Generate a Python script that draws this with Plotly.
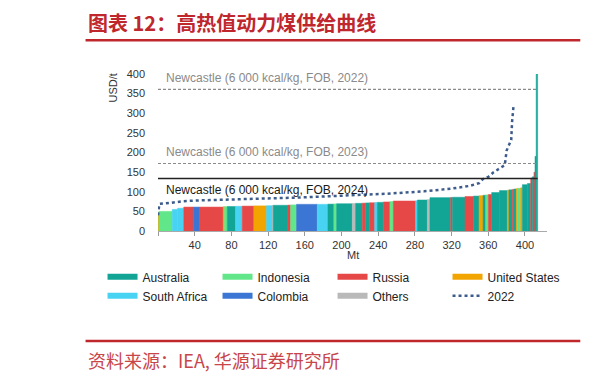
import plotly.graph_objects as go
import numpy as np

# ---------------- data ----------------
legend_countries = ["Australia", "Indonesia", "Russia", "United States",
                    "South Africa", "Colombia", "Others"]
country_colors = {
    "Australia": "#12a596",
    "Indonesia": "#62e68a",
    "Russia": "#e64848",
    "United States": "#f2a500",
    "South Africa": "#48d3f3",
    "Colombia": "#3c76d4",
    "Others": "#b9b9b9",
}

# 2024 supply curve: capacity (Mt) of each step, cost (USD/t), origin
widths = [1.0, 14.5, 5.8, 6.8, 10.3, 7.2, 25.5, 1.4, 3.0, 9.0, 7.3, 12.7, 13.8, 6.2,
          1.1, 16.0, 2.9, 6.5, 22.6, 11.6, 6.5, 3.0, 17.1, 3.6, 7.3, 3.6, 4.4, 5.5,
          2.9, 6.5, 7.2, 3.7, 24.3, 1.9, 10.9, 2.8, 22.6, 1.9, 13.7, 9.2, 6.1, 4.4,
          2.9, 2.9, 3.6, 8.5, 8.6, 1.7, 3.7, 1.7, 2.6, 1.4, 3.3, 1.9, 5.5, 3.6, 1.9,
          1.7, 1.1, 1.3, 1.6]
costs = [40, 50, 55, 58, 61, 61, 61, 62, 62, 62.5, 63, 63.5, 64, 64.5, 65, 65.5,
         66, 66.5, 68, 68, 68.5, 69, 69.5, 70, 70.5, 71, 71.5, 72, 72.5, 73, 74, 75,
         76.5, 77, 79, 80, 85, 85.5, 86, 88, 89, 90, 91, 92, 93, 98, 103, 104, 105,
         106, 107, 108, 109, 110, 118, 121, 135, 138, 150, 190, 400]
countries = ["United States", "Indonesia", "South Africa", "South Africa", "Russia",
             "Colombia", "Russia", "United States", "Indonesia", "Australia",
             "South Africa", "Russia", "United States", "South Africa", "Others",
             "Australia", "Russia", "Indonesia", "Colombia", "South Africa",
             "Australia", "Indonesia", "Australia", "Others", "Australia", "Russia",
             "Australia", "Russia", "South Africa", "Australia", "Russia", "Indonesia",
             "Russia", "South Africa", "Australia", "Others", "Australia", "Russia",
             "Australia", "Russia", "Australia", "United States", "Australia",
             "Indonesia", "Russia", "Australia", "Australia", "United States",
             "Australia", "Russia", "Australia", "United States", "Indonesia",
             "United States", "Australia", "Australia", "Russia", "Australia",
             "Russia", "Australia", "Australia"]

# 2022 supply curve (dotted)
curve_2022_mt = [0, 0.5, 1.5, 15, 28, 45, 100, 150, 200, 250, 290, 320, 340, 350,
                 354, 360, 366, 372, 378, 380, 383, 385, 386, 387.5]
curve_2022_usd = [40, 60, 69, 72, 76, 78, 81, 85, 90, 95, 101, 108, 115, 122,
                  132, 138, 150, 160, 168, 205, 222, 232, 280, 318]

# Newcastle reference prices
ref_years = ["2022", "2023", "2024"]
ref_prices = [361, 172, 134]

x_ticks = [0, 40, 80, 120, 160, 200, 240, 280, 320, 360, 400]
y_ticks = [0, 50, 100, 150, 200, 250, 300, 350, 400]

# ---------------- layout helpers ----------------
# the page body adds an 8px offset; positions below are given in window pixels
OFF = 8
WIN_W, WIN_H = 614, 377
FIG_W, FIG_H = WIN_W - OFF, WIN_H - OFF
PLOT_X0, PLOT_X1, PLOT_Y0, PLOT_Y1 = 157.5, 546.7, 74.0, 230.7  # window pixels
L = PLOT_X0 - OFF
T = PLOT_Y0 - OFF
R = FIG_W - (PLOT_X1 - OFF)
B = FIG_H - (PLOT_Y1 - OFF)
PW = PLOT_X1 - PLOT_X0
PH = PLOT_Y1 - PLOT_Y0


def px(x):
    return (x - PLOT_X0) / PW


def py(y):
    return (PLOT_Y1 - y) / PH


FONT = "Liberation Sans, Arial, sans-serif"
CJK = "Noto Sans CJK SC"
RED = "#c0272d"

widths_a = np.array(widths)
lefts = np.concatenate([[0.0], np.cumsum(widths_a)[:-1]])
centers = lefts + widths_a / 2
total_mt = float(widths_a.sum())
bar_colors = [country_colors[c] for c in countries]

fig = go.Figure()
fig.add_trace(go.Bar(
    x=centers, y=costs, width=widths,
    marker=dict(color=bar_colors, line=dict(color=bar_colors, width=0.5)),
    showlegend=False, hoverinfo="skip",
))

# legend entries (thick line symbols)
for c in legend_countries:
    fig.add_trace(go.Scatter(
        x=[None], y=[None], mode="lines", name=c,
        line=dict(color=country_colors[c], width=6),
    ))

fig.add_trace(go.Scatter(
    x=curve_2022_mt, y=curve_2022_usd, mode="lines", name="2022",
    line=dict(color="#3d5c8c", width=2.5, dash="dot"),
    hoverinfo="skip",
))

shapes = []
annotations = []
for yr, p in zip(ref_years, ref_prices):
    is_cur = yr == "2024"
    shapes.append(dict(
        type="line", xref="x", yref="y", x0=0, x1=total_mt, y0=p, y1=p,
        line=dict(color="#222222" if is_cur else "#8a8a8a",
                  width=1.5 if is_cur else 1.2,
                  dash="solid" if is_cur else "3px,2px"),
        layer="above",
    ))
    annotations.append(dict(
        xref="x", yref="y", x=7, y=p, xanchor="left",
        yanchor="top" if is_cur else "bottom",
        yshift=-3 if is_cur else 2,
        text=f"Newcastle (6 000 kcal/kg, FOB, {yr})", showarrow=False,
        font=dict(family=FONT, size=12, color="#1a1a1a" if is_cur else "#8a8a8a"),
    ))

# axis titles
annotations.append(dict(xref="paper", yref="paper", x=0.5, y=py(255),
                        xanchor="center", yanchor="middle", text="Mt",
                        showarrow=False, font=dict(family=FONT, size=11, color="#333")))
annotations.append(dict(xref="paper", yref="paper", x=px(112.5), y=py(88.5),
                        xanchor="center", yanchor="middle", text="USD/t",
                        textangle=-90, showarrow=False,
                        font=dict(family=FONT, size=11, color="#333")))

# page title and source
annotations.append(dict(xref="paper", yref="paper", x=px(85), y=py(23),
                        xanchor="left", yanchor="middle",
                        text="<b>图表 12：高热值动力煤供给曲线</b>", showarrow=False,
                        font=dict(family=CJK, size=20, color=RED)))
annotations.append(dict(xref="paper", yref="paper", x=px(85), y=py(359),
                        xanchor="left", yanchor="middle",
                        text="资料来源：IEA, 华源证券研究所", showarrow=False,
                        font=dict(family=CJK, size=18, color="#c8464a")))
# neighbouring-page fragments at the right edge
annotations.append(dict(xref="paper", yref="paper", x=px(607), y=py(23),
                        xanchor="left", yanchor="middle", text="<b>图</b>",
                        showarrow=False, font=dict(family=CJK, size=20, color="#333")))
annotations.append(dict(xref="paper", yref="paper", x=px(607), y=py(359),
                        xanchor="left", yanchor="middle", text="资",
                        showarrow=False, font=dict(family=CJK, size=17, color="#888")))

for (x0, x1, y) in [(85, 580, 40.3), (85, 580, 340.6), (606, 620, 40.3), (606, 620, 340.6)]:
    shapes.append(dict(type="line", xref="paper", yref="paper",
                       x0=px(x0), x1=px(x1), y0=py(y), y1=py(y),
                       line=dict(color=RED, width=2.5)))

fig.update_layout(
    width=FIG_W, height=FIG_H,
    margin=dict(l=L, r=R, t=T, b=B, pad=0),
    paper_bgcolor="white", plot_bgcolor="white",
    barmode="overlay",
    font=dict(family=FONT, size=11, color="#333"),
    xaxis=dict(range=[0, 424], tickmode="array", tickvals=x_ticks,
               ticktext=["" if v == 0 else str(v) for v in x_ticks],
               ticks="outside", ticklen=4, tickcolor="#999", showline=True,
               linecolor="#aaaaaa", linewidth=1, showgrid=False, zeroline=False,
               tickfont=dict(size=11, color="#333")),
    yaxis=dict(range=[0, 400], tickmode="array", tickvals=y_ticks,
               showgrid=False, zeroline=False, showline=False, ticks="",
               ticklabelstandoff=12, tickfont=dict(size=11, color="#333")),
    legend=dict(orientation="h", x=px(102), y=py(262), xanchor="left",
                yanchor="top", entrywidth=70, entrywidthmode="pixels",
                itemwidth=30, font=dict(family=FONT, size=12, color="#222"),
                bgcolor="rgba(0,0,0,0)", traceorder="normal"),
    shapes=shapes, annotations=annotations,
    showlegend=True,
)

fig.write_html("out.html")
